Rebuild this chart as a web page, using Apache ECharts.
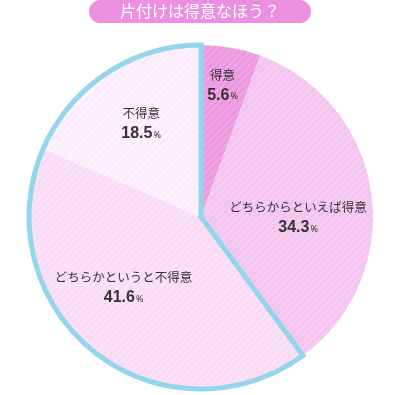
<!DOCTYPE html>
<html><head><meta charset="utf-8">
<script src="https://cdn.jsdelivr.net/npm/echarts@6/dist/echarts.min.js"></script>
<style>html,body{margin:0;padding:0;background:#fff}#c{width:400px;height:395px}</style>
</head><body><div id="c"></div>
<script>
const titleText = '片付けは得意なほう？';
const categories = ['得意', 'どちらからといえば得意', 'どちらかというと不得意', '不得意'];
const values = [5.6, 34.3, 41.6, 18.5];
const sliceColors = ['#eb98e0', '#f3c3ef', '#f9dbf5', '#fbecf9'];
const stripeColors = ['#eea6e5', '#f5cdf1', '#fbe3f8', '#fdf3fc'];
const labelOffsets = [[6, -44], [9, 13], [-22, 1], [-11, -19]];

function stripe(base, line) {
  const s = 7;
  const c = document.createElement('canvas');
  c.width = s; c.height = s;
  const g = c.getContext('2d');
  g.fillStyle = base; g.fillRect(0, 0, s, s);
  g.strokeStyle = line; g.lineWidth = 2;
  g.beginPath();
  g.moveTo(0, s); g.lineTo(s, 0);
  g.moveTo(-1, 1); g.lineTo(1, -1);
  g.moveTo(s - 1, s + 1); g.lineTo(s + 1, s - 1);
  g.stroke();
  return { image: c, repeat: 'repeat' };
}

const chart = echarts.init(document.getElementById('c'), null, { renderer: 'canvas' });
const center = [201, 217];
const radius = 172;
const data = categories.map((n, i) => ({
  name: n, value: values[i],
  itemStyle: { color: stripe(sliceColors[i], stripeColors[i]) },
  label: { offset: labelOffsets[i], align: i === 0 ? 'left' : 'center' }
}));
const posSum = values[0] + values[1];
const negSum = values[2] + values[3];
chart.setOption({
  animation: false,
  title: {
    text: titleText, left: 'center', top: 0,
    backgroundColor: '#ec8fe0', borderRadius: 12, padding: [3, 31, 4, 31],
    textStyle: { color: '#fff', fontSize: 16, fontWeight: 'normal', fontFamily: 'Noto Sans CJK JP' }
  },
  series: [{
    type: 'pie', center: center, radius: radius, startAngle: 90, clockwise: true,
    silent: true, emphasis: { disabled: true },
    itemStyle: { borderWidth: 0 },
    label: {
      show: true, position: 'inside',
      formatter: p => '{n|' + p.name + '}\n{v|' + p.value.toFixed(1) + '}{p|%}',
      rich: {
        n: { fontSize: 12.5, color: '#333', fontFamily: 'Noto Sans CJK JP', lineHeight: 20 },
        v: { fontSize: 16, fontWeight: 'bold', color: '#333', fontFamily: 'Liberation Sans', lineHeight: 20 },
        p: { fontSize: 9, color: '#333', fontFamily: 'Noto Sans', lineHeight: 20, padding: [3, 0, 0, 1] }
      }
    },
    labelLine: { show: false },
    data: data
  }, {
    type: 'pie', center: center, radius: radius, startAngle: 90, clockwise: true,
    silent: true, emphasis: { disabled: true }, label: { show: false }, labelLine: { show: false },
    data: [
      { value: posSum, itemStyle: { color: 'rgba(0,0,0,0)', borderWidth: 0 } },
      { value: negSum, itemStyle: { color: 'rgba(0,0,0,0)', borderColor: '#93d5ec', borderWidth: 5, borderJoin: 'miter' } }
    ]
  }]
});
</script></body></html>
